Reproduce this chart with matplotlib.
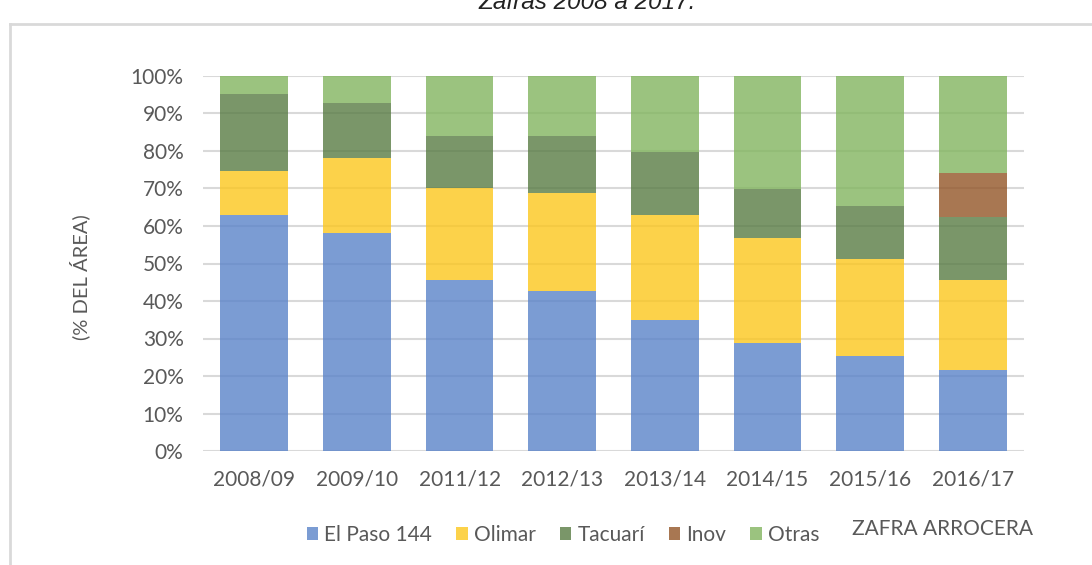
import matplotlib
matplotlib.use("Agg")
import matplotlib.pyplot as plt
from matplotlib.lines import Line2D
from matplotlib.patches import Patch
import numpy as np

# ---------------- datos (% del área) ----------------
zafras = ["2008/09", "2009/10", "2011/12", "2012/13", "2013/14", "2014/15", "2015/16", "2016/17"]
el_paso = [62.9, 58.2, 45.6, 42.6, 34.9, 28.8, 25.3, 21.6]
olimar = [11.8, 19.8, 24.6, 26.2, 28.0, 28.0, 26.0, 23.9]
tacuari = [20.5, 14.8, 13.7, 15.2, 16.8, 13.1, 14.1, 16.8]
inov = [0.0, 0.0, 0.0, 0.0, 0.0, 0.0, 0.0, 11.9]
otras = [4.8, 7.2, 16.1, 16.0, 20.3, 30.1, 34.6, 25.8]

series = [
    ("El Paso 144", el_paso, "#5A83C9"),
    ("Olimar", olimar, "#FCC71D"),
    ("Tacuarí", tacuari, "#597C44"),
    ("Inov", inov, "#925527"),
    ("Otras", otras, "#82B55F"),
]

plt.rcParams["font.family"] = ["Lato", "DejaVu Sans"]
TXT = "#595959"
GRID = "#D9D9D9"
W, H = 1092, 565

fig = plt.figure(figsize=(W / 100, H / 100), dpi=100)
ax = fig.add_axes([203 / W, 1 - 451 / H, 821 / W, 375 / H])

x = np.arange(len(zafras))
bottom = np.zeros(len(zafras))
for name, vals, color in series:
    v = np.array(vals) / 100.0
    ax.bar(x, v, bottom=bottom, width=0.66, color=color, alpha=0.8,
           linewidth=0, zorder=2)
    bottom += v

ax.set_xlim(-0.5, len(zafras) - 0.5)
ax.set_ylim(0, 1)
ax.set_yticks(np.arange(0, 1.01, 0.1))
ax.set_yticklabels([f"{int(round(t * 100))}%" for t in np.arange(0, 1.01, 0.1)])
ax.set_xticks(x)
ax.set_xticklabels(zafras)
ax.tick_params(axis="both", length=0, labelsize=15, colors=TXT)
ax.tick_params(axis="y", pad=14)
ax.tick_params(axis="x", pad=13)
ax.yaxis.grid(True, color=GRID, linewidth=1.5, zorder=1)
ax.set_axisbelow(True)
for s in ax.spines.values():
    s.set_visible(False)

fig.text(80 / W, 1 - 277 / H, "(% DEL ÁREA)", rotation=90, ha="center",
         va="center", fontsize=14.5, color=TXT)

fig.text(942 / W, 1 - 529 / H, "ZAFRA ARROCERA", ha="center", va="center",
         fontsize=15, color=TXT)

handles = [Patch(facecolor=c, alpha=0.8, linewidth=0) for _, _, c in series]
labels = [n for n, _, _ in series]
fig.legend(handles, labels, loc="center", bbox_to_anchor=(563 / W, 1 - 535 / H),
           ncol=5, frameon=False, fontsize=15, labelcolor=TXT,
           handlelength=0.55, handleheight=0.55, handletextpad=0.3,
           columnspacing=1.15)

# título (cortado en la parte superior)
fig.text(587 / W, 1 - 9 / H, "Zafras 2008 a 2017.", ha="center", va="baseline",
         fontsize=17.5, style="italic", family=["Liberation Sans"], color="#222222")

# marco del gráfico
fig.add_artist(Line2D([10 / W, 10 / W], [0, 1 - 24 / H], transform=fig.transFigure,
                      color=GRID, linewidth=2))
fig.add_artist(Line2D([10 / W, 1], [1 - 24 / H, 1 - 24 / H], transform=fig.transFigure,
                      color=GRID, linewidth=2))

fig.savefig("out.png", dpi=100)
